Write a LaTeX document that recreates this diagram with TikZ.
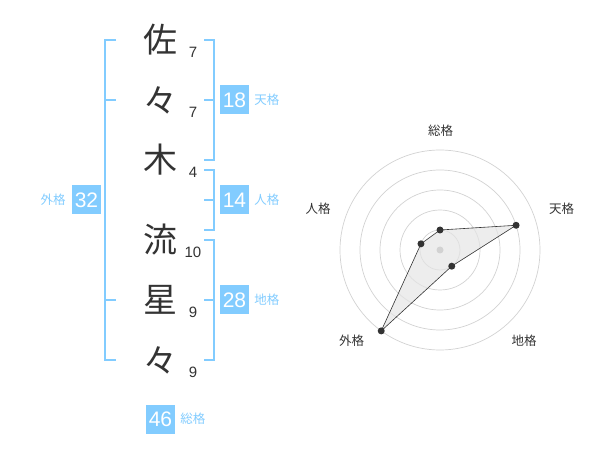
\documentclass[tikz,border=0pt]{standalone}
\usepackage{fontspec}
\setmainfont{Liberation Sans}
\newfontfamily\cjk{Noto Sans CJK JP}
\usetikzlibrary{positioning}
\definecolor{sky}{RGB}{130,204,255}
\definecolor{ink}{RGB}{51,51,51}
\definecolor{ringgray}{RGB}{210,210,210}

\begin{document}
\begin{tikzpicture}[x=1pt,y=-1pt,
  kanji/.style={font=\cjk\fontsize{34}{34}\selectfont, text=ink, inner sep=0pt},
  strokes/.style={font=\fontsize{15}{15}\selectfont, text=ink, inner sep=0pt},
  scorebox/.style={fill=sky, text=white, minimum size=29pt, inner sep=0pt,
                   font=\fontsize{21}{21}\selectfont},
  scorelabel/.style={text=sky, font=\cjk\fontsize{12.5}{13}\selectfont, inner sep=0pt},
  bracket/.style={draw=sky, line width=2pt},
  ring/.style={draw=ringgray, line width=0.7pt},
  axislabel/.style={font=\cjk\fontsize{12.5}{13}\selectfont, text=ink, inner sep=0pt},
  dot/.style={circle, fill=ink, inner sep=0pt, minimum size=7pt}]

\useasboundingbox (0,0) rectangle (600,470);

%---------------------------------------
% Name and stroke counts
%---------------------------------------
\foreach \ch/\n/\y [count=\i] in {佐/7/40, 々/7/100, 木/4/160,
                                  流/10/240, 星/9/300, 々/9/360}{
  \node[kanji]   (ch\i) at (160,\y) {\ch};
  \node[strokes] (n\i)  at (193,\y+12) {\n};
}

%---------------------------------------
% Brackets
%---------------------------------------
% outer (left)
\draw[bracket] (116,40) -- (105,40) -- (105,360) -- (116,360);
\draw[bracket] (105,100) -- (116,100);
\draw[bracket] (105,300) -- (116,300);

% right: tenkaku, jinkaku, chikaku
\foreach \top/\bot in {40/160, 170/230, 240/360}{
  \draw[bracket] (204,\top) -- (214,\top) -- (214,\bot) -- (204,\bot);
  \draw[bracket] (204,{(\top+\bot)/2}) -- (214,{(\top+\bot)/2});
}

%---------------------------------------
% Scores
%---------------------------------------
\node[scorebox] (ten)  at (234.5,100) {18};
\node[scorebox] (jin)  at (234.5,200) {14};
\node[scorebox] (chi)  at (234.5,300) {28};
\node[scorebox] (gai)  at (86.5,200)  {32};
\node[scorebox] (sou)  at (160.5,419) {46};

\node[scorelabel, right=5pt of ten] (tenl) {天格};
\node[scorelabel, right=5pt of jin] (jinl) {人格};
\node[scorelabel, right=5pt of chi] (chil) {地格};
\node[scorelabel, left=6pt of gai]  (gail) {外格};
\node[scorelabel, right=5pt of sou] (soul) {総格};

%====================================================
% RADAR CHART
%====================================================
\begin{scope}[shift={(440,250)}, y=1pt]
  % rings
  \foreach \r in {20,40,60,80,100}
    \draw[ring] (0,0) circle[radius=\r];

  % data points (rank 1..5)
  \coordinate (psou) at (90:20);
  \coordinate (pten) at (18:80);
  \coordinate (pchi) at (-54:20);
  \coordinate (pgai) at (-126:100);
  \coordinate (pjin) at (162:20);

  \fill[black!10, opacity=0.7] (psou) -- (pten) -- (pchi) -- (pgai) -- (pjin) -- cycle;
  \draw[ink, line width=0.6pt] (psou) -- (pten) -- (pchi) -- (pgai) -- (pjin) -- cycle;

  \node[circle, fill=ringgray, inner sep=0pt, minimum size=7pt] (center) at (0,0) {};
  \foreach \p in {psou,pten,pchi,pgai,pjin}
    \node[dot] (d\p) at (\p) {};

  % axis labels
  \node[axislabel] (lsou) at (0.7,119.3)    {総格};
  \node[axislabel] (lten) at (121.7,41.7)   {天格};
  \node[axislabel] (lchi) at (84,-90.7)     {地格};
  \node[axislabel] (lgai) at (-88.3,-90.7)  {外格};
  \node[axislabel] (ljin) at (-122,41.7)    {人格};
\end{scope}

\end{tikzpicture}
\end{document}
